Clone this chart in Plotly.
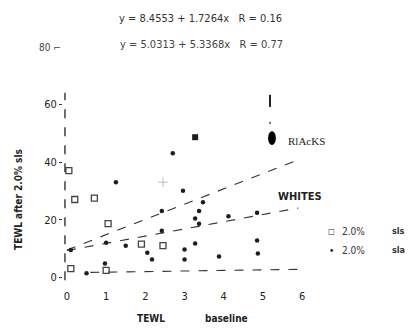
import plotly.graph_objects as go

# ---- data ----
x_ticks = [0, 1, 2, 3, 4, 5, 6]
y_ticks = [0, 20, 40, 60]

open_x = [0.2, 0.7, 1.05, 1.0, 1.9, 2.45, 0.05, 0.1]
open_y = [27, 27.5, 18.6, 2.4, 11.5, 11.0, 37, 3.0]

dots_x = [1.25, 2.7, 2.96, 3.37, 3.47, 4.12, 3.27, 3.37, 2.42, 3.27, 3.0, 3.0,
          3.88, 4.85, 4.85, 4.87, 0.97, 0.5, 2.17, 1.5, 2.42, 1.0, 2.05, 0.1]
dots_y = [33, 43, 30, 23, 26, 21.2, 20.4, 18.6, 16.2, 11.7, 9.7, 6.2,
          7.2, 22.4, 12.8, 8.3, 4.8, 1.4, 6.2, 11, 23, 12, 8.5, 9.5]

filled_sq_x = [3.27]
filled_sq_y = [48.6]

faint_x = [2.45]
faint_y = [33]

# regression lines: intercept, slope, x-start, x-end
blacks_line = [9.5, 5.3, 0.0, 5.9]
whites_line = [9.3, 2.5, 0.0, 5.9]
bottom_line = [1.6, 0.2, 0.6, 6.0]

eq1 = "y = 8.4553 + 1.7264x   R = 0.16"
eq2 = "y = 5.0313 + 5.3368x   R = 0.77"

ink = "#1e1e1e"
fnt = "Liberation Sans Narrow, DejaVu Sans Condensed, Arial Narrow, sans-serif"

# plot area in window pixels
W, H = 410, 328
PL, PR, PT, PB = 63, 310, 38, 286

fig = go.Figure()

for (a, b, x0, x1) in [blacks_line, whites_line, bottom_line]:
    fig.add_trace(go.Scatter(x=[x0, x1], y=[a + b * x0, a + b * x1], mode="lines",
                             line=dict(color="#333", width=1.1, dash="dash"),
                             showlegend=False, hoverinfo="skip"))

fig.add_trace(go.Scatter(x=open_x, y=open_y, mode="markers",
                         marker=dict(symbol="square-open", size=6, color="#444",
                                     line=dict(width=1.3)),
                         showlegend=False))
fig.add_trace(go.Scatter(x=dots_x, y=dots_y, mode="markers",
                         marker=dict(symbol="circle", size=4.5, color=ink),
                         showlegend=False))
fig.add_trace(go.Scatter(x=filled_sq_x, y=filled_sq_y, mode="markers",
                         marker=dict(symbol="square", size=6, color=ink),
                         showlegend=False))
fig.add_trace(go.Scatter(x=faint_x, y=faint_y, mode="markers",
                         marker=dict(symbol="cross-thin-open", size=7, color="#bbb",
                                     line=dict(width=1, color="#bbb")),
                         showlegend=False))

# y axis line (visible part) as a shape
fig.add_shape(type="line", xref="x", yref="y", x0=-0.05, x1=-0.05, y0=-1, y1=64,
              line=dict(color="#333", width=1.4, dash="dash"))
# blacks key marks
fig.add_shape(type="circle", xref="x", yref="y", x0=5.13, x1=5.33, y0=45.9, y1=50.7,
              fillcolor="#000", line=dict(width=0))
fig.add_shape(type="line", xref="x", yref="y", x0=5.18, x1=5.18, y0=59.1, y1=63.3,
              line=dict(color="#222", width=2))
fig.add_shape(type="rect", xref="x", yref="y", x0=5.165, x1=5.195, y0=53.2, y1=54.0,
              fillcolor="#222", line=dict(width=0))


def ann(px, py, text, size=10, color=ink, family=fnt, angle=0, xanchor="center", bold=False):
    t = f"<b>{text}</b>" if bold else text
    fig.add_annotation(x=(px - PL) / (PR - PL), y=(PB - py) / (PB - PT),
                       xref="paper", yref="paper",
                       text=t, showarrow=False, textangle=angle, xanchor=xanchor,
                       yanchor="middle", font=dict(size=size, color=color, family=family))


ann(200, 18, eq1, size=11, color="#333")
ann(201, 45, eq2, size=11, color="#444")
ann(50, 48, "80 ⌐", size=10, color="#444")
ann(306, 141, "RlAcKS", size=11, color="#222", family="Liberation Serif, DejaVu Serif, serif")
ann(300, 196, "WHITES", size=11, color="#222", bold=True)
ann(331, 231, "□", size=8, color="#333")
ann(353, 231, "2.0%", size=10, color="#333")
ann(398, 231, "sls", size=9, color="#333", bold=True)
ann(331, 250, "•", size=10, color="#222")
ann(353, 250, "2.0%", size=10, color="#333")
ann(398, 250, "sla", size=9, color="#333", bold=True)
ann(18, 200, "TEWL after 2.0% sls", size=10, color="#222", angle=-90, bold=True)
ann(151, 318, "TEWL", size=10, color="#222", bold=True)
ann(226, 318, "baseline", size=10, color="#222", bold=True)

fig.update_layout(
    width=W, height=H,
    margin=dict(l=PL, r=W - PR, t=PT, b=H - PB),
    paper_bgcolor="white", plot_bgcolor="white",
    font=dict(family=fnt, size=10, color=ink),
    showlegend=False,
    xaxis=dict(range=[-0.1, 6.2], tickvals=x_ticks, showgrid=False, zeroline=False,
               showline=False, ticks="", tickfont=dict(size=11, color="#222"),
               ticklabelstandoff=2),
    yaxis=dict(range=[-3, 83], tickvals=y_ticks, showgrid=False, zeroline=False,
               showline=False, ticks="outside", ticklen=3, tickcolor="#333",
               tickfont=dict(size=11, color="#222")),
)

fig.write_html("out.html", config={"displayModeBar": False},
               post_script="document.body.style.margin='0';document.body.style.overflow='hidden';")
